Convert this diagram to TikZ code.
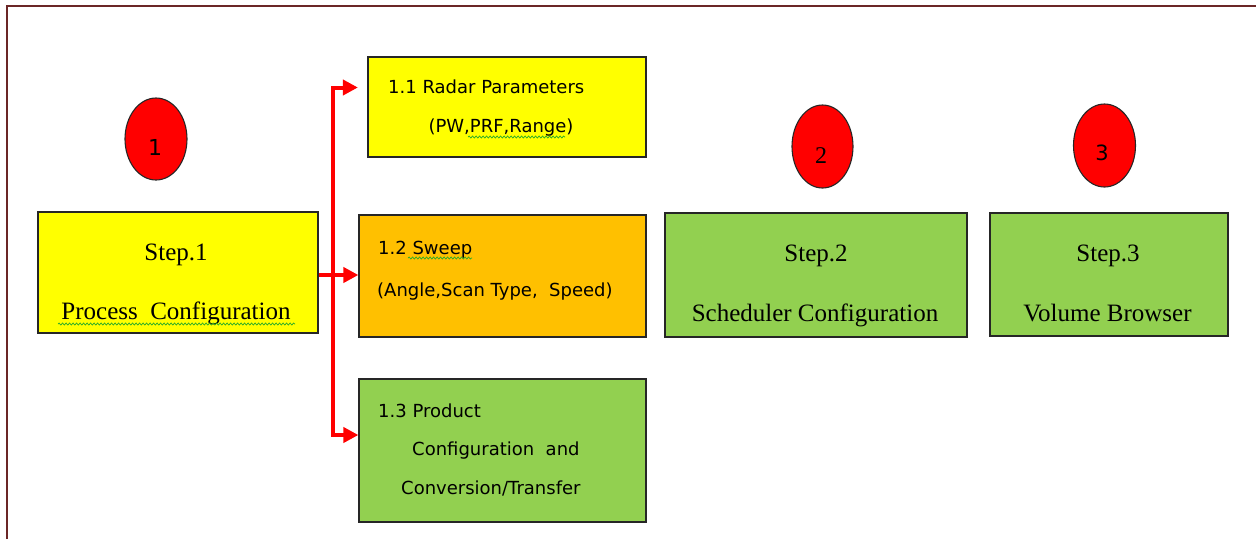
\documentclass[tikz,border=0pt]{standalone}
\usepackage{fontspec}
\setmainfont{Liberation Serif}
\newfontfamily\tah{DejaVu Sans}
\usetikzlibrary{arrows.meta,shapes.geometric,decorations.pathmorphing}
\definecolor{framecol}{RGB}{107,38,38}
\definecolor{byellow}{RGB}{255,255,0}
\definecolor{borange}{RGB}{255,192,0}
\definecolor{bgreen}{RGB}{146,208,80}
\definecolor{squigcol}{RGB}{40,170,40}
\tikzset{
  box/.style={draw=black!85, line width=1.2pt, inner sep=0pt, rectangle},
  oval/.style={draw=black!85, line width=1.1pt, fill=red, ellipse, inner sep=0pt},
  serif/.style={inner sep=0pt, font=\fontsize{25}{30}\selectfont},
  sans/.style={inner sep=0pt, font=\tah\fontsize{18}{22}\selectfont},
  rarrow/.style={draw=red, line width=4pt, line join=miter,
    -{Triangle[length=15pt,width=15pt]}},
  squig/.style={draw=squigcol, line width=0.7pt,
    decorate, decoration={snake, segment length=3.5pt, amplitude=1pt}},
}
\begin{document}
\begin{tikzpicture}[x=1pt,y=-1pt]
\useasboundingbox (0,0) rectangle (1256,539);
\fill[white] (0,0) rectangle (1256,539);
% frame
\draw[framecol, line width=2pt, line join=miter] (7,539) -- (7,5.7) -- (1256,5.7);

% boxes
\node[box, fill=byellow, minimum width=280pt, minimum height=121pt] (s1) at (178,272.5) {};
\node[box, fill=byellow, minimum width=278pt, minimum height=100pt] (b11) at (507,107) {};
\node[box, fill=borange, minimum width=287pt, minimum height=122pt] (b12) at (502.5,276) {};
\node[box, fill=bgreen, minimum width=287pt, minimum height=143pt] (b13) at (502.5,450.5) {};
\node[box, fill=bgreen, minimum width=302pt, minimum height=124pt] (s2) at (816,275) {};
\node[box, fill=bgreen, minimum width=238pt, minimum height=123pt] (s3) at (1109,274.5) {};

% ovals
\node[oval, minimum width=62pt, minimum height=82pt] (e1) at (156,139) {};
\node[oval, minimum width=61pt, minimum height=83pt] (e2) at (822.5,146.5) {};
\node[oval, minimum width=62pt, minimum height=83pt] (e3) at (1104.5,145.5) {};
\node[inner sep=0pt, anchor=base, font=\tah\fontsize{22}{26}\selectfont] (n1) at (155,155) {1};
\node[inner sep=0pt, anchor=base, font=\fontsize{24}{28}\selectfont] (n2) at (821,163) {2};
\node[inner sep=0pt, anchor=base, font=\tah\fontsize{21}{25}\selectfont] (n3) at (1102,160.5) {3};

% step texts
\node[serif, anchor=base] (s1a) at (176,260) {Step.1};
\node[serif, anchor=base] (s1b) at (176,319) {Process\ \ Configuration};
\node[serif, anchor=base] (s2a) at (816,261) {Step.2};
\node[serif, anchor=base] (s2b) at (815,321) {Scheduler Configuration};
\node[serif, anchor=base] (s3a) at (1108,261) {Step.3};
\node[serif, anchor=base] (s3b) at (1107.5,321) {Volume Browser};

% sub-step texts
\node[sans, anchor=base west] (t11a) at (388,93) {1.1 Radar Parameters};
\node[sans, anchor=base] (t11b) at (501,132) {(PW,PRF,Range)};
\node[sans, anchor=base west] (t12a) at (378,254.5) {1.2 Sweep};
\node[sans, anchor=base west] (t12b) at (377,296.5) {(Angle,Scan Type,\ \ Speed)};
\node[sans, anchor=base west] (t13a) at (378,417) {1.3 Product};
\node[sans, anchor=base west] (t13b) at (412,455) {Configuration\ \ and};
\node[sans, anchor=base west] (t13c) at (401,494) {Conversion/Transfer};

% spell-check squiggles
\draw[squig] (468,137) -- (565,137);
\draw[squig] (408,258) -- (472,258);
\draw[squig] (58,324) -- (295,324);

% connectors
\coordinate (jt) at (332.5,87.5);
\coordinate (jm) at (332.5,275);
\coordinate (jb) at (332.5,435);
\draw[rarrow, {Triangle[length=15pt,width=15pt]}-{Triangle[length=15pt,width=15pt]}, shorten <=9.5pt]
  (jt -| b11.west) -- (jt) -- (jb) -- (jb -| b13.west);
\draw[rarrow] (s1.east |- jm) -- (jm -| b12.west);
\end{tikzpicture}
\end{document}
